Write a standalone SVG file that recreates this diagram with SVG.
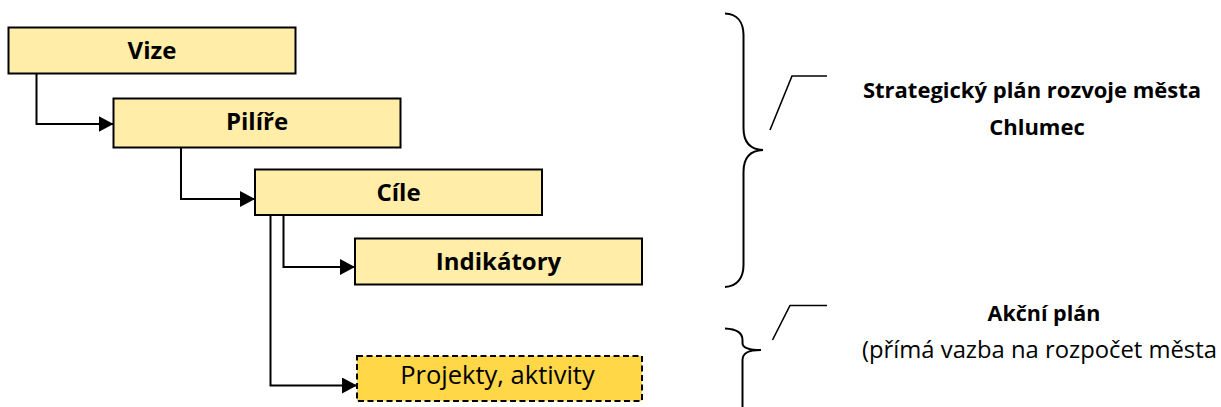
<svg xmlns="http://www.w3.org/2000/svg" width="1221" height="407" viewBox="0 0 1221 407">
<defs>
<style>
.box{fill:#FFEDA8;stroke:#000;stroke-width:2}
.act{fill:#FFD747;stroke:#000;stroke-width:2;stroke-dasharray:6 3.5}
.t{font-family:"Open Sans","Liberation Sans",sans-serif;font-size:24px;font-weight:bold;fill:#000;text-anchor:middle}
.tn{font-family:"Open Sans","Liberation Sans",sans-serif;font-size:25.5px;fill:#000;text-anchor:middle}
.conn{fill:none;stroke:#000;stroke-width:2}
.brace{fill:none;stroke:#000;stroke-width:2}
.call{fill:none;stroke:#000;stroke-width:1.6}
.lb{font-family:"Open Sans","Liberation Sans",sans-serif;font-size:22px;font-weight:bold;fill:#000;text-anchor:middle}
.lb2{font-family:"Open Sans","Liberation Sans",sans-serif;font-size:21.5px;font-weight:bold;fill:#000;text-anchor:middle}
.ln{font-family:"Open Sans","Liberation Sans",sans-serif;font-size:23.8px;fill:#000}
</style>
<marker id="arr" markerUnits="userSpaceOnUse" viewBox="0 0 15 16" refX="15" refY="8" markerWidth="15" markerHeight="16" orient="auto">
<path d="M0,0 L15,8 L0,16 z" fill="#000"/>
</marker>
</defs>
<rect width="1221" height="407" fill="#fff"/>
<g id="connectors">
<path class="conn" d="M36.5,73 V124 H113.5" marker-end="url(#arr)"/>
<path class="conn" d="M181,147.5 V199 H255" marker-end="url(#arr)"/>
<path class="conn" d="M283.5,215 V267 H355" marker-end="url(#arr)"/>
<path class="conn" d="M270.5,215 V385.5 H357" marker-end="url(#arr)"/>
</g>
<g id="vize">
<rect class="box" x="8.5" y="27.5" width="287" height="46"/>
<text class="t" x="152" y="59">Vize</text>
</g>
<g id="pilire">
<rect class="box" x="113.5" y="98.5" width="287" height="49"/>
<text class="t" x="257" y="130">Pilíře</text>
</g>
<g id="cile">
<rect class="box" x="255" y="169.5" width="287" height="45.5"/>
<text class="t" x="398.5" y="200.5">Cíle</text>
</g>
<g id="indikatory">
<rect class="box" x="355" y="238.5" width="287" height="46"/>
<text class="t" x="498.5" y="270">Indikátory</text>
</g>
<g id="projekty">
<rect class="act" x="357" y="356" width="285" height="45"/>
<text class="tn" x="497.5" y="384">Projekty, aktivity</text>
</g>
<g id="brace-strategic">
<path class="brace" d="M725,13.5 C737,14 743.5,22 743.5,35 L743.5,128 C743.5,142 750,149.5 763,150 C750,150.5 743.5,158 743.5,172 L743.5,265 C743.5,278 737,286.5 725,287"/>
<path class="call" d="M770,130 L792,76 H827"/>
</g>
<g id="label-strategic">
<text class="lb" x="1032" y="98">Strategický plán rozvoje města</text>
<text class="lb" x="1037" y="135">Chlumec</text>
</g>
<g id="brace-action">
<path class="brace" d="M725,328.5 C736,329 742.5,333 742.5,340 L742.5,343 C742.5,348 748,350 761,350 C748,350 742.5,353 742.5,360 L742.5,410"/>
<path class="call" d="M772.5,340 L790,305.5 H827"/>
</g>
<g id="label-action">
<text class="lb2" x="1044" y="321">Akční plán</text>
<text class="ln" x="862" y="358">(přímá vazba na rozpočet města</text>
</g>
</svg>
